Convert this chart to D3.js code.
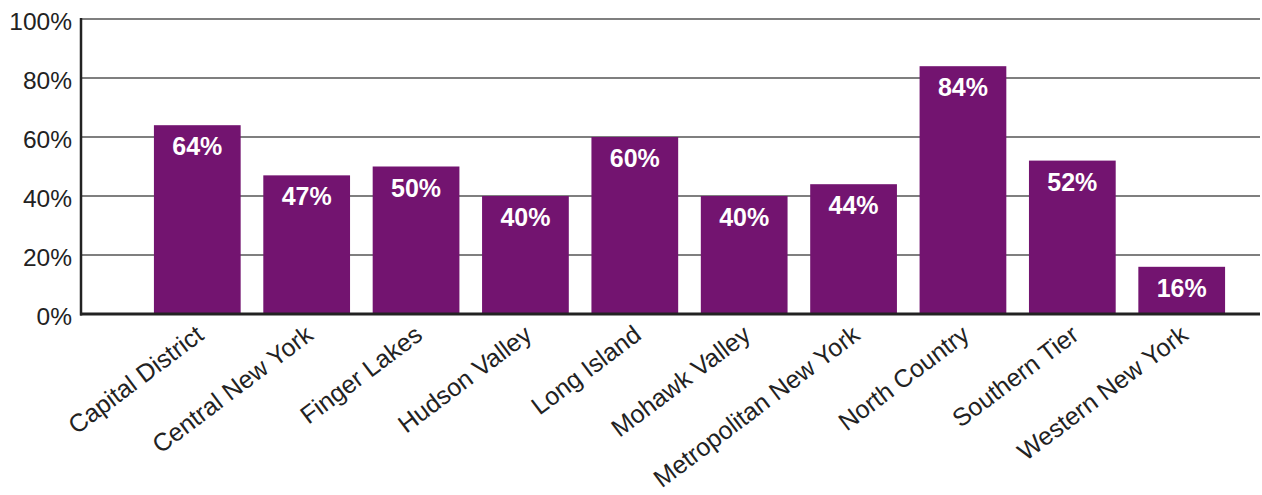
<!DOCTYPE html>
<html>
<head>
<meta charset="utf-8">
<script src="https://cdn.jsdelivr.net/npm/d3@7"></script>
<style>
  html, body { margin: 0; padding: 0; background: #fff; }
  svg { display: block; }
  text { font-family: "Liberation Sans", Arial, Helvetica, sans-serif; }
</style>
</head>
<body>
<svg id="chart" width="1262" height="495"></svg>
<script>
const categories = ["Capital District", "Central New York", "Finger Lakes", "Hudson Valley", "Long Island",
  "Mohawk Valley", "Metropolitan New York", "North Country", "Southern Tier", "Western New York"];
const values = [64, 47, 50, 40, 60, 40, 44, 84, 52, 16];
const yTicks = [0, 20, 40, 60, 80, 100];

const svg = d3.select("#chart");
const plotLeft = 81, plotRight = 1260, plotTop = 19, plotBottom = 314;

const y = d3.scaleLinear().domain([0, 100]).range([plotBottom, plotTop]);
const x = d3.scaleBand().domain(categories)
  .range([142.6, 1236.4]).paddingInner(0.207).paddingOuter(0.1035);

// gridlines
svg.append("g").selectAll("line").data(yTicks.filter(d => d > 0)).join("line")
  .attr("x1", plotLeft).attr("x2", plotRight)
  .attr("y1", d => y(d)).attr("y2", d => y(d))
  .attr("stroke", "#555").attr("stroke-width", 1.6);

// y tick labels
svg.append("g").selectAll("text").data(yTicks).join("text")
  .attr("x", 72).attr("y", d => y(d)).attr("dy", "0.43em")
  .attr("text-anchor", "end").attr("font-size", 24.5).attr("fill", "#222")
  .text(d => d + "%");

// bars
svg.append("g").selectAll("rect").data(values).join("rect")
  .attr("x", (d, i) => x(categories[i]))
  .attr("width", x.bandwidth())
  .attr("y", d => y(d))
  .attr("height", d => y(0) - y(d))
  .attr("fill", "#731470");

// bar value labels
svg.append("g").selectAll("text").data(values).join("text")
  .attr("x", (d, i) => x(categories[i]) + x.bandwidth() / 2)
  .attr("y", d => y(d) + 30)
  .attr("text-anchor", "middle").attr("font-size", 25).attr("font-weight", "bold")
  .attr("fill", "#fff")
  .text(d => d + "%");

// axes lines
svg.append("line").attr("x1", plotLeft).attr("x2", plotLeft)
  .attr("y1", plotTop - 1).attr("y2", plotBottom + 1.5)
  .attr("stroke", "#222").attr("stroke-width", 2.5);
svg.append("line").attr("x1", plotLeft - 1).attr("x2", plotRight)
  .attr("y1", plotBottom).attr("y2", plotBottom)
  .attr("stroke", "#222").attr("stroke-width", 2.8);

// category labels
svg.append("g").selectAll("text").data(categories).join("text")
  .attr("transform", d => `translate(${x(d) + x.bandwidth() / 2 + 8},${plotBottom + 24}) rotate(-37)`)
  .attr("text-anchor", "end").attr("font-size", 25).attr("fill", "#222")
  .text(d => d);
</script>
</body>
</html>
